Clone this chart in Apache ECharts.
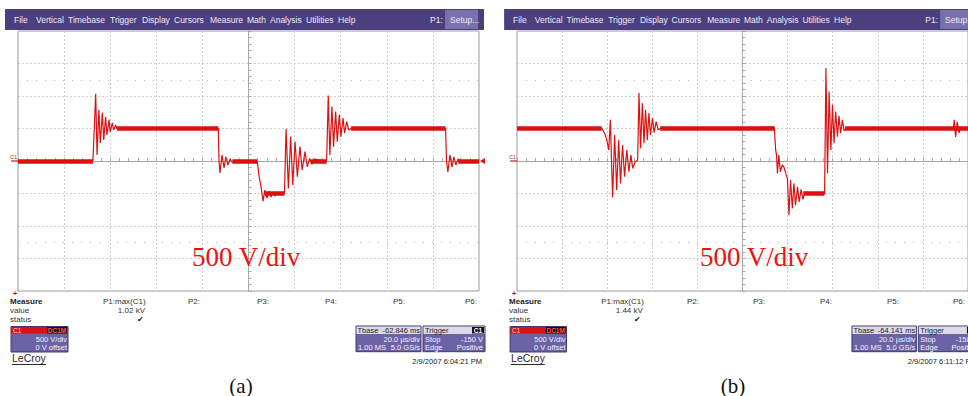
<!DOCTYPE html>
<html>
<head>
<meta charset="utf-8">
<script src="https://cdn.jsdelivr.net/npm/echarts@6/dist/echarts.min.js"></script>
<style>
  html, body { margin: 0; padding: 0; background: #fff; }
  #chart { width: 968px; height: 396px; }
</style>
</head>
<body>
<div id="chart"></div>
<script>
// time in us (20 us/div, centre = 0), voltage in V (500 V/div)
const waveA = [
  [-100, 0], [-67.5, 0], [-66.3, 1034], [-65.7, 93], [-64.9, 787], [-64.3, 278], [-63.4, 741],
  [-62.8, 324], [-62.0, 679], [-61.4, 401], [-60.5, 633], [-60.0, 448], [-59.1, 586], [-58.5, 478],
  [-57.6, 556], [-57.1, 494], [-56.0, 500], [-13.1, 500], [-12.8, 0], [-12.4, -185], [-11.5, 93],
  [-10.6, -108], [-9.8, 62], [-8.9, -62], [-8.0, 31], [-7.2, -15], [3.8, 0], [4.5, -216], [5.4, -386],
  [6.3, -617], [7.1, -447], [8.0, -571], [8.9, -463], [9.8, -555], [10.6, -478], [11.5, -540],
  [12.4, -494], [15.6, -500], [16.3, 494], [17.3, -421], [18.3, 375], [19.2, -370], [20.2, 298],
  [21.2, -242], [22.3, 221], [23.3, -139], [24.5, 144], [25.5, -88], [26.5, 40], [27.5, -50],
  [28.5, 30], [33.9, 0], [34.6, 1008], [35.3, 93], [36.2, 838], [36.9, 221], [37.8, 761], [38.5, 298],
  [39.4, 710], [40.1, 375], [41.0, 659], [41.7, 427], [42.6, 606], [43.5, 478], [44.5, 500],
  [85.5, 500], [85.9, 0], [86.5, -170], [87.4, 93], [88.3, -93], [89.1, 62], [90.0, -62], [90.9, 31],
  [91.8, 0], [100, 0]
];
const flatA = [
  [[-100, 0], [-67.5, 0]], [[-57, 500], [-13.1, 500]], [[-7, 0], [3.8, 0]],
  [[7, -500], [15.6, -500]], [[27, 0], [33.9, 0]], [[44.5, 500], [85.5, 500]], [[91, 0], [100, 0]]
];
const waveB = [
  [-100, 500], [-62.4, 500], [-61.0, 417], [-60.2, 324], [-59.3, 170], [-58.6, 633], [-57.6, -560],
  [-56.7, 401], [-55.8, -447], [-54.9, 324], [-54.1, -344], [-53.2, 247], [-52.3, -242], [-51.3, 170],
  [-50.4, -165], [-49.5, 93], [-48.7, -113], [-47.6, -10], [-46.5, 15], [-45.9, 1045], [-45.2, 196],
  [-44.4, 890], [-43.7, 273], [-43.0, 787], [-42.2, 324], [-41.5, 736], [-40.8, 401], [-39.9, 659],
  [-39.2, 437], [-38.3, 606], [-37.4, 478], [-36.5, 500], [14.1, 520], [14.7, 170], [15.1, 93],
  [15.5, -190], [16.1, 93], [16.8, -165], [17.6, -62], [18.3, -88], [19.2, -190], [19.9, -267],
  [20.6, -833], [21.3, -293], [22.1, -730], [22.8, -344], [23.5, -679], [24.4, -396], [25.1, -628],
  [26.0, -437], [26.8, -591], [27.6, -480], [36.0, -509], [36.4, -509], [37.0, 1430], [37.7, -190],
  [38.4, 1069], [39.2, 170], [39.9, 864], [40.6, 273], [41.3, 761], [42.1, 375], [42.8, 694],
  [43.5, 427], [44.3, 633], [45.0, 468], [45.8, 500], [93.5, 500], [93.9, 633], [94.5, 370],
  [95.2, 602], [96.0, 432], [96.6, 500], [100, 500]
];
const flatB = [
  [[-100, 500], [-62.4, 500]], [[-36.5, 500], [14.1, 500]], [[27, -500], [36.2, -500]], [[45.5, 500], [100, 500]]
];

const menuLabels = ['File', 'Vertical', 'Timebase', 'Trigger', 'Display', 'Cursors', 'Measure', 'Math', 'Analysis', 'Utilities', 'Help'];
const menuX = [14, 36, 68, 110, 142, 174, 210, 247, 270, 306, 338];
const paramLabels = ['P2:', 'P3:', 'P4:', 'P5:', 'P6:'];
const paramXA = [188, 257, 325, 393, 465];
const paramXB = [687, 753, 820, 887, 953];

const panels = [
  { base: 18, s: 1, value: '1.02 kV', tbase: '-62.846 ms', date: '2/9/2007 6:04:21 PM', divX: 192, cap: '(a)', capX: 241, px: paramXA },
  { base: 517, s: 0.991, value: '1.44 kV', tbase: '-64.141 ms', date: '2/9/2007 6:11:12 PM', divX: 700, cap: '(b)', capX: 733, px: paramXB }
];

const RED = '#dd1111';
const PURPLE = '#4b3f80';
const BOX = '#6b63a6';
const SANS = 'Liberation Sans, Arial, sans-serif';

function txt(x, y, text, size, fill, align, weight) {
  return {
    type: 'text', x: x, y: y, z: 100,
    style: {
      text: text, fill: fill || '#222', textAlign: align || 'left', textVerticalAlign: 'middle',
      font: (weight || 'normal') + ' ' + size + 'px ' + SANS
    }
  };
}
function rect(x, y, w, h, fill, stroke) {
  return { type: 'rect', z: 99, shape: { x: x, y: y, width: w, height: h },
    style: { fill: fill, stroke: stroke || null, lineWidth: 1 } };
}

const graphics = [];
panels.forEach(function (p) {
  const X = function (xa) { return p.base + (xa - 18) * p.s; };
  // menu bar
  graphics.push(rect(X(5), 9, X(484) - X(5), 21, PURPLE));
  graphics.push(rect(X(445), 10, X(478) - X(445), 19, '#7a70ab'));
  menuLabels.forEach(function (m, i) { graphics.push(txt(X(menuX[i]), 19.5, m, 8.5, '#ecebf4')); });
  graphics.push(txt(X(430), 19.5, 'P1:', 8.5, '#ecebf4'));
  graphics.push(txt(X(450), 19.5, 'Setup...', 8.5, '#ecebf4'));
  // channel marker
  graphics.push(txt(X(10), 156.5, 'C1', 5.5, '#b03030'));
  graphics.push({ type: 'line', z: 100, shape: { x1: X(11), y1: 161, x2: X(18), y2: 161 }, style: { stroke: '#c02020', lineWidth: 1.2 } });
  graphics.push(txt(X(15), 293, '+', 8, RED, 'center', 'bold'));
  // measure table
  graphics.push(txt(X(10), 301, 'Measure', 8, '#222', 'left', 'bold'));
  graphics.push(txt(X(10), 310.5, 'value', 8, '#333'));
  graphics.push(txt(X(10), 319.5, 'status', 8, '#333'));
  graphics.push(txt(X(103), 301, 'P1:max(C1)', 8, '#333'));
  graphics.push(txt(X(145), 310.5, p.value, 8, '#333', 'right'));
  graphics.push(txt(X(140), 319.5, '\u2714', 8, '#222', 'center'));
  paramLabels.forEach(function (l, i) { graphics.push(txt(p.px[i], 301, l, 8, '#333')); });
  // C1 channel box
  graphics.push(rect(X(11), 326.5, X(68) - X(11), 25.5, BOX, '#3e3670'));
  graphics.push(rect(X(11.5), 327, X(67.5) - X(11.5), 6.5, RED));
  graphics.push(txt(X(13), 330.3, 'C1', 6.5, '#ffd0d0'));
  graphics.push(rect(X(47), 327, X(67) - X(47), 6.5, '#111'));
  graphics.push(txt(X(57), 330.3, 'DC1M', 6.5, '#ff5050', 'center', 'bold'));
  graphics.push(txt(X(67), 339.5, '500 V/div', 7.5, '#f2f0fa', 'right'));
  graphics.push(txt(X(67), 347, '0 V offset', 7.5, '#f2f0fa', 'right'));
  graphics.push(txt(X(12), 358, 'LeCroy', 10.5, '#2a2a2a'));
  graphics.push({ type: 'line', z: 100, shape: { x1: X(12), y1: 364.5, x2: X(46), y2: 364.5 }, style: { stroke: '#2a2a2a', lineWidth: 1 } });
  // timebase box
  graphics.push(rect(X(356), 326, X(421) - X(356), 25.7, BOX, '#3e3670'));
  graphics.push(rect(X(356.5), 326.5, X(420.5) - X(356.5), 7.5, '#dcd9ea'));
  graphics.push(txt(X(357.5), 330.3, 'Tbase', 7.5, '#222'));
  graphics.push(txt(X(420), 330.3, p.tbase, 7.5, '#222', 'right'));
  graphics.push(txt(X(420), 339.5, '20.0 \u00b5s/div', 7.5, '#f2f0fa', 'right'));
  graphics.push(txt(X(358), 347, '1.00 MS', 7.5, '#f2f0fa'));
  graphics.push(txt(X(420), 347, '5.0 GS/s', 7.5, '#f2f0fa', 'right'));
  // trigger box
  graphics.push(rect(X(423), 326, X(485) - X(423), 25.7, BOX, '#3e3670'));
  graphics.push(rect(X(423.5), 326.5, X(484.5) - X(423.5), 7.5, '#dcd9ea'));
  graphics.push(txt(X(425), 330.3, 'Trigger', 7.5, '#222'));
  graphics.push(rect(X(472), 327, X(484) - X(472), 6.5, '#111'));
  graphics.push(txt(X(478), 330.3, 'C1', 6.5, '#ffffff', 'center', 'bold'));
  graphics.push(txt(X(425), 339.5, 'Stop', 7.5, '#f2f0fa'));
  graphics.push(txt(X(483), 339.5, '-150 V', 7.5, '#f2f0fa', 'right'));
  graphics.push(txt(X(425), 347, 'Edge', 7.5, '#f2f0fa'));
  graphics.push(txt(X(483), 347, 'Positive', 7.5, '#f2f0fa', 'right'));
  graphics.push(txt(X(482), 361.5, p.date, 7.5, '#222', 'right'));
  // trigger level arrow
  graphics.push({ type: 'polygon', z: 100, shape: { points: [[X(480), 161], [X(485), 158], [X(485), 164]] }, style: { fill: RED } });
  // scale note and caption
  graphics.push({ type: 'text', x: p.divX, y: 257, z: 101,
    style: { text: '500 V/div', fill: '#ee1111', textVerticalAlign: 'middle', font: '27px Liberation Serif, Times New Roman, serif' } });
  graphics.push({ type: 'text', x: p.capX, y: 386, z: 101,
    style: { text: p.cap, fill: '#111', textAlign: 'center', textVerticalAlign: 'middle', font: '21px Liberation Serif, Times New Roman, serif' } });
});

function axes(i) {
  const tickColor = '#a8a8a8';
  return {
    x: {
      gridIndex: i, type: 'value', min: -100, max: 100, interval: 20,
      axisLine: { onZero: true, lineStyle: { color: tickColor } },
      axisTick: { show: true, inside: true, length: 3, lineStyle: { color: tickColor } },
      minorTick: { show: true, splitNumber: 5, length: 3, lineStyle: { color: tickColor } },
      axisLabel: { show: false },
      splitLine: { show: true, lineStyle: { color: '#cdcdcd', type: [2, 2] } }
    },
    y: {
      gridIndex: i, type: 'value', min: -2000, max: 2000, interval: 500,
      axisLine: { onZero: true, lineStyle: { color: tickColor } },
      axisTick: { show: true, inside: true, length: 3, lineStyle: { color: tickColor } },
      minorTick: { show: true, splitNumber: 5, length: 3, lineStyle: { color: tickColor } },
      axisLabel: { show: false },
      splitLine: { show: true, lineStyle: { color: '#cdcdcd', type: [2, 2] } }
    }
  };
}
const ax0 = axes(0), ax1 = axes(1);

function waveSeries(i, data, flats) {
  return [
    {
      type: 'line', xAxisIndex: i, yAxisIndex: i, data: data, showSymbol: false,
      lineStyle: { color: RED, width: 1.2 }, z: 5,
      markLine: {
        silent: true, symbol: ['none', 'none'], label: { show: false },
        lineStyle: { color: '#b5b5b5', type: [1, 8], width: 1 },
        data: [{ yAxis: 1250 }, { yAxis: -1250 }]
      }
    },
    {
      type: 'lines', coordinateSystem: 'cartesian2d', xAxisIndex: i, yAxisIndex: i,
      polyline: false, z: 6,
      lineStyle: { color: RED, width: 4.5, opacity: 1 },
      data: flats.map(function (c) { return { coords: c }; })
    }
  ];
}

const chart = echarts.init(document.getElementById('chart'), null, { renderer: 'svg' });
chart.setOption({
  animation: false,
  backgroundColor: '#ffffff',
  grid: [
    { left: 18, top: 31, width: 461, height: 260, show: true, borderColor: '#9a9a9a', borderWidth: 1 },
    { left: 517, top: 31, width: 457, height: 260, show: true, borderColor: '#9a9a9a', borderWidth: 1 }
  ],
  xAxis: [ax0.x, ax1.x],
  yAxis: [ax0.y, ax1.y],
  series: waveSeries(0, waveA, flatA).concat(waveSeries(1, waveB, flatB)),
  graphic: graphics
});
</script>
</body>
</html>
